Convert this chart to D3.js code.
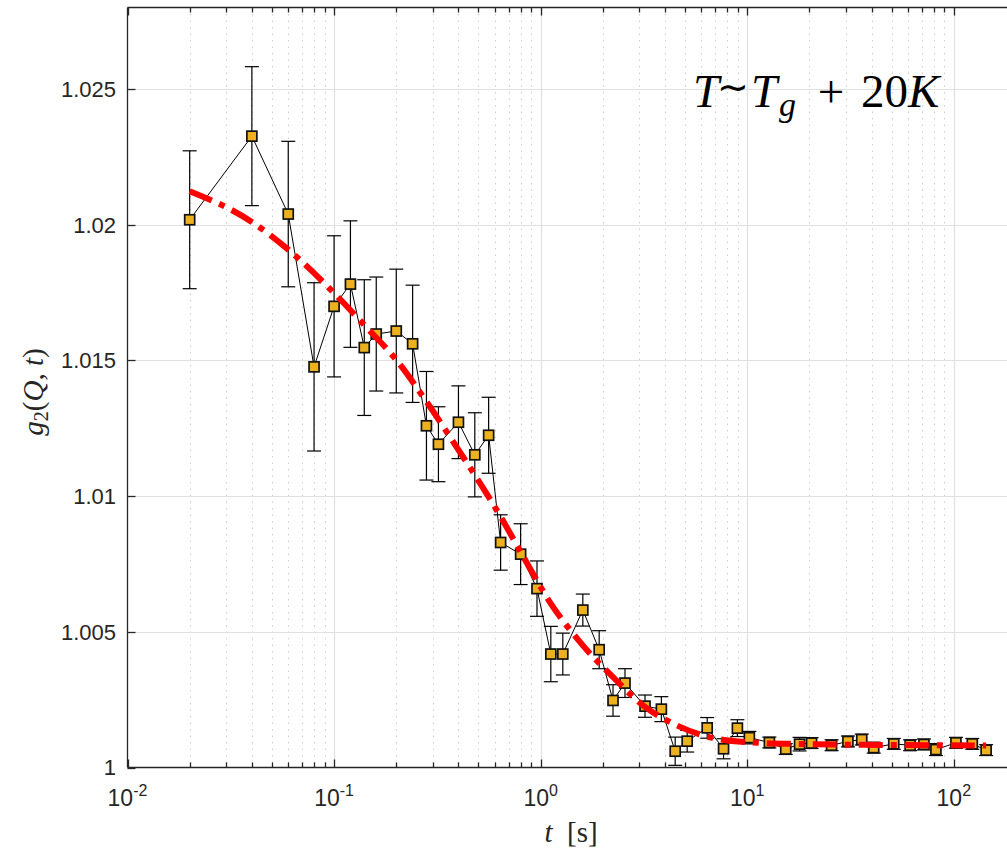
<!DOCTYPE html>
<html>
<head>
<meta charset="utf-8">
<script src="https://cdn.jsdelivr.net/npm/d3@7"></script>
<style>
  html, body { margin: 0; padding: 0; background: #fff; }
  svg { display: block; }
</style>
</head>
<body>
<svg id="chart" width="1007" height="849"></svg>
<script>
// ---- data ----
const lagTimes = [0.02, 0.04, 0.06, 0.08, 0.10, 0.12, 0.14, 0.16,
  0.20, 0.24, 0.28, 0.32, 0.40, 0.48, 0.56, 0.64,
  0.80, 0.96, 1.12, 1.28, 1.6, 1.92, 2.24, 2.56,
  3.2, 3.84, 4.48, 5.12, 6.4, 7.68, 8.96, 10.24,
  12.8, 15.36, 17.92, 20.48, 25.6, 30.72, 35.84, 40.96,
  51.2, 61.44, 71.68, 81.92, 102.4, 122.88, 143.36];
const g2Values = [1.02018, 1.02326, 1.02039, 1.01476, 1.01699, 1.01781, 1.01547, 1.01597,
  1.01608, 1.01561, 1.01259, 1.01191, 1.01272, 1.01152, 1.01224, 1.00829,
  1.00786, 1.00659, 1.00418, 1.00418, 1.00580, 1.00434, 1.00247, 1.00311,
  1.00226, 1.00215, 1.00060, 1.00097, 1.00146, 1.00069, 1.00145, 1.00110,
  1.00092, 1.00068, 1.00086, 1.00090, 1.00082, 1.00096, 1.00103, 1.00073,
  1.00087, 1.00082, 1.00085, 1.00066, 1.00091, 1.00087, 1.00064];
const g2Errors = [0.00254, 0.00256, 0.00268, 0.00310, 0.00260, 0.00233, 0.00250, 0.00210,
  0.00228, 0.00216, 0.00200, 0.00138, 0.00134, 0.00155, 0.00140, 0.00102,
  0.00112, 0.00102, 0.00102, 0.00077, 0.00059, 0.00070, 0.00058, 0.00053,
  0.00041, 0.00046, 0.00052, 0.00040, 0.00038, 0.00037, 0.00031, 0.00023,
  0.00020, 0.00020, 0.00025, 0.00020, 0.00020, 0.00020, 0.00020, 0.00020,
  0.00020, 0.00020, 0.00020, 0.00022, 0.00020, 0.00020, 0.00020];
const fitTimes = [0.02, 0.04, 0.06, 0.10, 0.14, 0.20, 0.28, 0.40, 0.56, 0.64, 0.80,
  1.12, 1.6, 2.24, 3.2, 4.48, 6.4, 10.24, 20, 50, 143.36];
const fitValues = [1.02123, 1.02010, 1.01908, 1.01748, 1.01630, 1.01502, 1.01348, 1.01170,
  1.00997, 1.00924, 1.00794, 1.00604, 1.00450, 1.00333, 1.00223, 1.00158, 1.00114,
  1.00093, 1.00086, 1.00083, 1.00081];
const yTickValues = [1, 1.005, 1.01, 1.015, 1.02, 1.025];
const yTickLabels = ["1", "1.005", "1.01", "1.015", "1.02", "1.025"];
const xDecades = [0.01, 0.1, 1, 10, 100];
const xDecadeExponents = ["-2", "-1", "0", "1", "2"];

// ---- layout ----
const svg = d3.select("#chart");
const pLeft = 127.5, pRight = 1016, pTop = 7.5, pBottom = 767.5;
const x = d3.scaleLog().domain([0.01, 200]).range([pLeft, pRight]);
const y = d3.scaleLinear().domain([1, 1.028]).range([pBottom, pTop]);
const axisColor = "#262626";

const minorTicks = [];
for (let e = -2; e <= 2; e++) {
  for (let m = 2; m <= 9; m++) {
    const v = m * Math.pow(10, e);
    if (v < 200) minorTicks.push(v);
  }
}

const grid = svg.append("g");
grid.selectAll("line.minor").data(minorTicks).join("line")
  .attr("x1", d => Math.round(x(d)) + 0.5).attr("x2", d => Math.round(x(d)) + 0.5)
  .attr("y1", pTop).attr("y2", pBottom)
  .attr("stroke", "#cfcfcf").attr("stroke-width", 1).attr("stroke-dasharray", "1.5,5");
grid.selectAll("line.majx").data(xDecades.slice(1)).join("line")
  .attr("x1", d => Math.round(x(d)) + 0.5).attr("x2", d => Math.round(x(d)) + 0.5)
  .attr("y1", pTop).attr("y2", pBottom)
  .attr("stroke", "#e0e0e0").attr("stroke-width", 1.2);
grid.selectAll("line.majy").data(yTickValues.slice(1)).join("line")
  .attr("x1", pLeft).attr("x2", 1007)
  .attr("y1", d => Math.round(y(d)) + 0.5).attr("y2", d => Math.round(y(d)) + 0.5)
  .attr("stroke", "#e0e0e0").attr("stroke-width", 1.2);

// axes frame
const frame = svg.append("g").attr("stroke", axisColor).attr("stroke-width", 1.3);
frame.append("line").attr("x1", pLeft).attr("x2", 1007).attr("y1", pBottom).attr("y2", pBottom);
frame.append("line").attr("x1", pLeft).attr("x2", 1007).attr("y1", pTop).attr("y2", pTop);
frame.append("line").attr("x1", pLeft).attr("x2", pLeft).attr("y1", pTop).attr("y2", pBottom);

// ticks
const tickG = svg.append("g").attr("stroke", axisColor).attr("stroke-width", 1.3);
xDecades.forEach(d => {
  const px = Math.round(x(d)) + 0.5;
  tickG.append("line").attr("x1", px).attr("x2", px).attr("y1", pBottom).attr("y2", pBottom - 8);
  tickG.append("line").attr("x1", px).attr("x2", px).attr("y1", pTop).attr("y2", pTop + 8);
});
minorTicks.forEach(d => {
  const px = Math.round(x(d)) + 0.5;
  tickG.append("line").attr("x1", px).attr("x2", px).attr("y1", pBottom).attr("y2", pBottom - 5);
  tickG.append("line").attr("x1", px).attr("x2", px).attr("y1", pTop).attr("y2", pTop + 5);
});
yTickValues.forEach(d => {
  const py = Math.round(y(d)) + 0.5;
  tickG.append("line").attr("x1", pLeft).attr("x2", pLeft + 8).attr("y1", py).attr("y2", py);
});

// tick labels
const labelFont = "'Liberation Sans', Arial, Helvetica, sans-serif";
svg.append("g").selectAll("text").data(yTickValues).join("text")
  .attr("x", 116).attr("y", d => y(d)).attr("dy", "0.36em")
  .attr("text-anchor", "end").attr("font-family", labelFont).attr("font-size", 22)
  .attr("fill", axisColor)
  .text((d, i) => yTickLabels[i]);

const xl = svg.append("g");
xDecades.forEach((d, i) => {
  const t = xl.append("text")
    .attr("x", x(d)).attr("y", 806)
    .attr("text-anchor", "middle").attr("font-family", labelFont).attr("font-size", 23)
    .attr("fill", axisColor);
  t.append("tspan").text("10");
  t.append("tspan").attr("font-size", 16).attr("dy", -10).text(xDecadeExponents[i]);
});

// axis titles
const mathFont = "'Liberation Serif', 'Times New Roman', serif";
const xt = svg.append("text").attr("x", 571).attr("y", 842)
  .attr("text-anchor", "middle").attr("font-family", mathFont)
  .attr("font-size", 29).attr("fill", axisColor);
xt.append("tspan").attr("font-style", "italic").text("t");
xt.append("tspan").text("\u2002[s]");

const yt = svg.append("text")
  .attr("transform", "translate(43,392) rotate(-90)")
  .attr("text-anchor", "middle").attr("font-family", mathFont)
  .attr("font-size", 29).attr("fill", axisColor);
yt.append("tspan").attr("font-style", "italic").text("g");
yt.append("tspan").attr("font-size", 20).attr("dy", 5).text("2");
yt.append("tspan").attr("dy", -5).text("(");
yt.append("tspan").attr("font-style", "italic").text("Q");
yt.append("tspan").text(", ");
yt.append("tspan").attr("font-style", "italic").text("t");
yt.append("tspan").text(")");

// ---- data marks ----
const pts = lagTimes.map((t, i) => ({ t, g: g2Values[i], e: g2Errors[i] }));

svg.append("path").datum(pts)
  .attr("fill", "none").attr("stroke", "#000").attr("stroke-width", 1)
  .attr("d", d3.line().x(d => x(d.t)).y(d => y(d.g)));

const eb = svg.append("g").attr("stroke", "#000").attr("stroke-width", 1.2);
const cap = 7;
pts.forEach(d => {
  const px = x(d.t), y1 = y(d.g + d.e), y2 = y(d.g - d.e);
  eb.append("line").attr("x1", px).attr("x2", px).attr("y1", y1).attr("y2", y2);
  eb.append("line").attr("x1", px - cap).attr("x2", px + cap).attr("y1", y1).attr("y2", y1);
  eb.append("line").attr("x1", px - cap).attr("x2", px + cap).attr("y1", y2).attr("y2", y2);
});

const ms = 10;
svg.append("g").selectAll("rect").data(pts).join("rect")
  .attr("x", d => x(d.t) - ms / 2).attr("y", d => y(d.g) - ms / 2)
  .attr("width", ms).attr("height", ms)
  .attr("fill", "#EDB120").attr("stroke", "#111").attr("stroke-width", 1.7);

const fitPts = fitTimes.map((t, i) => ({ t, g: fitValues[i] }));
svg.append("path").datum(fitPts)
  .attr("fill", "none").attr("stroke", "#ff0000").attr("stroke-width", 6)
  .attr("stroke-dasharray", "24,8,6,8")
  .attr("d", d3.line().x(d => x(d.t)).y(d => y(d.g)).curve(d3.curveMonotoneX));

// annotation: T ~ T_g + 20K
const ann = svg.append("g").attr("font-family", mathFont).attr("font-size", 47).attr("fill", "#000");
ann.append("text").attr("x", 693).attr("y", 107).attr("font-style", "italic").text("T");
ann.append("text").attr("x", 733).attr("y", 100).attr("text-anchor", "middle")
  .attr("font-size", 38).text("\u223C");
ann.append("text").attr("x", 751).attr("y", 107).attr("font-style", "italic").text("T");
ann.append("text").attr("x", 779).attr("y", 116).attr("font-size", 34).attr("font-style", "italic").text("g");
ann.append("text").attr("x", 831).attr("y", 107).attr("text-anchor", "middle").text("+");
ann.append("text").attr("x", 861).attr("y", 107).text("20");
ann.append("text").attr("x", 908).attr("y", 107).attr("font-style", "italic").text("K");
</script>
</body>
</html>
